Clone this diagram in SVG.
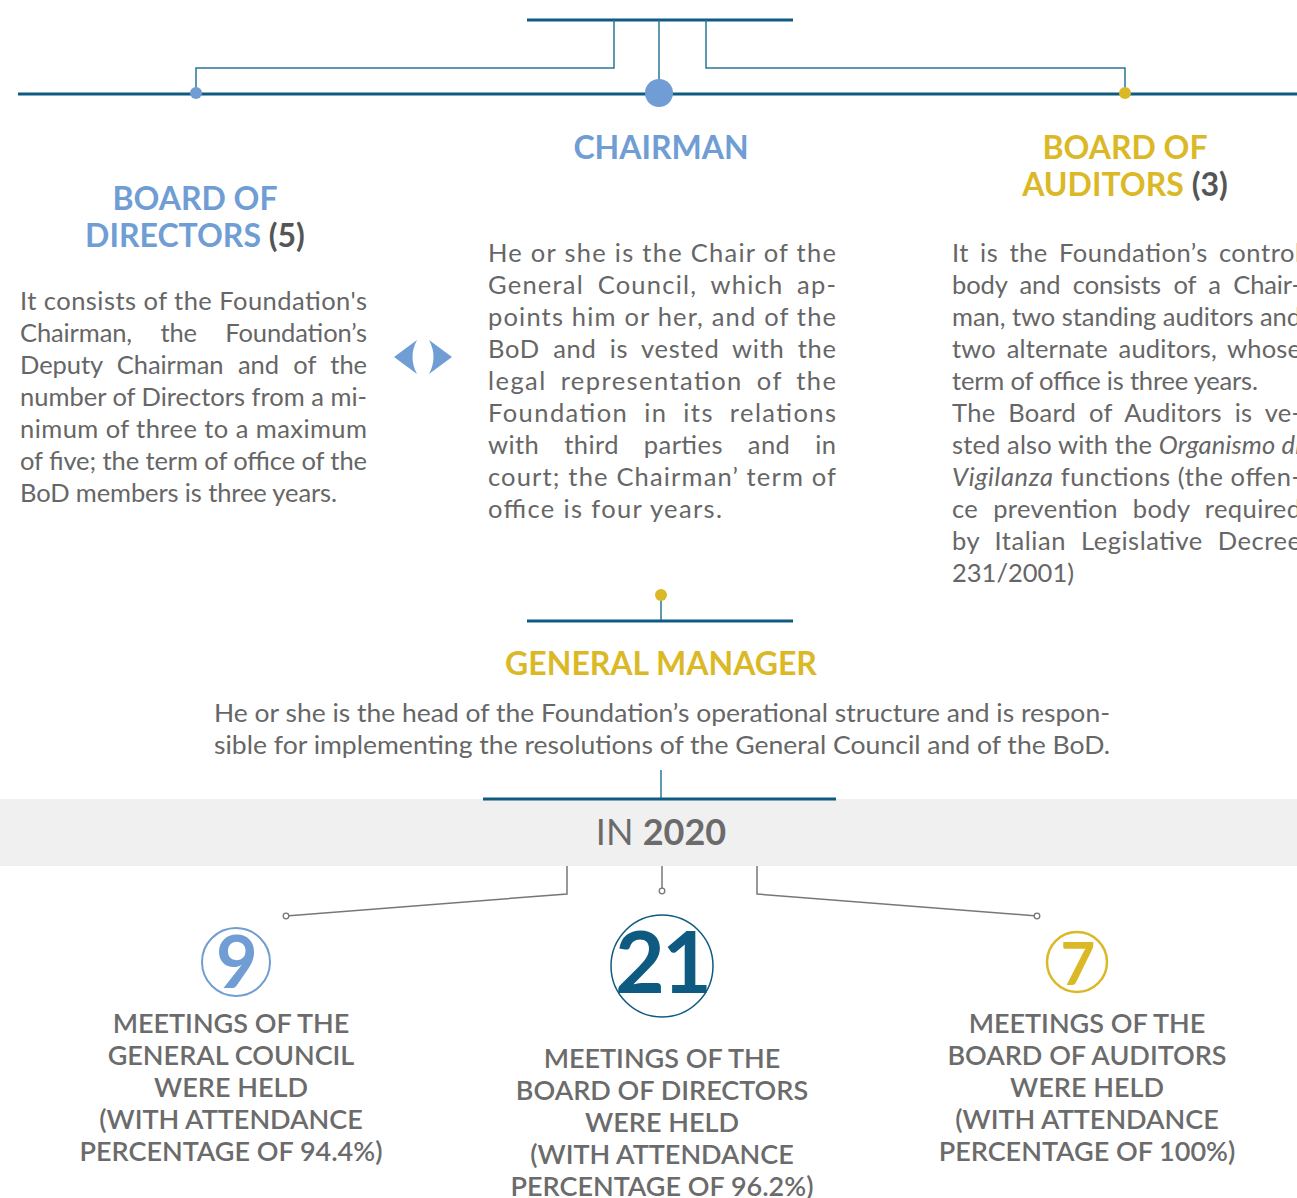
<svg xmlns="http://www.w3.org/2000/svg" width="1297" height="1198" viewBox="0 0 1297 1198">
<style>
.bar{stroke:#0e5a80;stroke-width:3;fill:none}
.thin{stroke:#2b7699;stroke-width:1.5;fill:none}
.grey{stroke:#777;stroke-width:1.5;fill:none}
.h{font-family:Lato,"Liberation Sans",sans-serif;font-weight:700;font-size:32px}
.blue{fill:#6f9dd4}
.gold{fill:#dbb826}
.num{fill:#555}
.body{font-family:Lato,"Liberation Sans",sans-serif;font-size:25.5px;fill:#666}
.cap{font-family:Lato,"Liberation Sans",sans-serif;font-weight:600;font-size:27px;fill:#6b6b6b;text-anchor:middle}
</style>
<rect width="1297" height="1198" fill="#fff"/>
<g id="connectors">
<line class="bar" x1="527" y1="20" x2="793" y2="20"/>
<polyline class="thin" points="614,20 614,68 196,68 196,93"/>
<line class="thin" x1="659" y1="20" x2="659" y2="93"/>
<polyline class="thin" points="706,20 706,68 1125,68 1125,93"/>
<line class="bar" x1="18" y1="94" x2="1297" y2="94"/>
<line class="thin" x1="661" y1="595" x2="661" y2="621"/>
<line class="bar" x1="527" y1="621" x2="793" y2="621"/>
<line class="thin" x1="661" y1="770" x2="661" y2="798"/>
<polyline class="grey" points="567,866 567,894 286,916"/>
<line class="grey" x1="662" y1="866" x2="662" y2="889"/>
<polyline class="grey" points="757,866 757,894 1037,916"/>
<circle cx="286" cy="916" r="2.8" fill="#fff" stroke="#777" stroke-width="1.3"/>
<circle cx="662" cy="891" r="2.8" fill="#fff" stroke="#777" stroke-width="1.3"/>
<circle cx="1037" cy="916" r="2.8" fill="#fff" stroke="#777" stroke-width="1.3"/>
</g>
<g id="dots">
<circle cx="196" cy="93" r="6" fill="#6f9dd4"/>
<circle cx="659" cy="93" r="14" fill="#6f9dd4"/>
<circle cx="1125" cy="93" r="6" fill="#dbb826"/>
<circle cx="661" cy="595" r="6" fill="#dbb826"/>
</g>
<g id="board-of-directors">
<text class="h blue" x="195" y="210" text-anchor="middle">BOARD OF</text>
<text class="h blue" x="195" y="247" text-anchor="middle">DIRECTORS <tspan class="num">(5)</tspan></text>
<text class="body" x="20" y="310" textLength="347" lengthAdjust="spacing">It consists of the Foundation's</text>
<text class="body" x="20" y="342" textLength="347" lengthAdjust="spacing" word-spacing="22">Chairman, the Foundation’s</text>
<text class="body" x="20" y="374" textLength="347" lengthAdjust="spacing" word-spacing="8">Deputy Chairman and of the</text>
<text class="body" x="20" y="406" textLength="347" lengthAdjust="spacing">number of Directors from a mi-</text>
<text class="body" x="20" y="438" textLength="347" lengthAdjust="spacing">nimum of three to a maximum</text>
<text class="body" x="20" y="470" textLength="347" lengthAdjust="spacing">of five; the term of office of the</text>
<text class="body" x="20" y="502" textLength="317" lengthAdjust="spacing">BoD members is three years.</text>
</g>
<g id="arrows" fill="#6f9dd4">
<path d="M394,357 L417,340 Q408,357 417,374 Z"/>
<path d="M452,357 L429,340 Q438,357 429,374 Z"/>
</g>
<g id="chairman">
<text class="h blue" x="661" y="159" text-anchor="middle">CHAIRMAN</text>
<text class="body" x="488" y="262" textLength="348" lengthAdjust="spacing">He or she is the Chair of the</text>
<text class="body" x="488" y="294" textLength="348" lengthAdjust="spacing" word-spacing="6">General Council, which ap-</text>
<text class="body" x="488" y="326" textLength="348" lengthAdjust="spacing">points him or her, and of the</text>
<text class="body" x="488" y="358" textLength="348" lengthAdjust="spacing" word-spacing="6">BoD and is vested with the</text>
<text class="body" x="488" y="390" textLength="348" lengthAdjust="spacing" word-spacing="6">legal representation of the</text>
<text class="body" x="488" y="422" textLength="348" lengthAdjust="spacing" word-spacing="8">Foundation in its relations</text>
<text class="body" x="488" y="454" textLength="348" lengthAdjust="spacing" word-spacing="18">with third parties and in</text>
<text class="body" x="488" y="486" textLength="348" lengthAdjust="spacing">court; the Chairman’ term of</text>
<text class="body" x="488" y="518" textLength="234" lengthAdjust="spacing">office is four years.</text>
</g>
<g id="board-of-auditors">
<text class="h gold" x="1125" y="159" text-anchor="middle">BOARD OF</text>
<text class="h gold" x="1125" y="196" text-anchor="middle">AUDITORS <tspan class="num">(3)</tspan></text>
<text class="body" x="952" y="262" textLength="349" lengthAdjust="spacing" word-spacing="4">It is the Foundation’s control</text>
<text class="body" x="952" y="294" textLength="349" lengthAdjust="spacing" word-spacing="6">body and consists of a Chair-</text>
<text class="body" x="952" y="326" textLength="349" lengthAdjust="spacing">man, two standing auditors and</text>
<text class="body" x="952" y="358" textLength="349" lengthAdjust="spacing" word-spacing="4">two alternate auditors, whose</text>
<text class="body" x="952" y="390" textLength="306" lengthAdjust="spacing">term of office is three years.</text>
<text class="body" x="952" y="422" textLength="349" lengthAdjust="spacing" word-spacing="6">The Board of Auditors is ve-</text>
<text class="body" x="952" y="454" textLength="349" lengthAdjust="spacing">sted also with the <tspan font-style="italic">Organismo di</tspan></text>
<text class="body" x="952" y="486" textLength="349" lengthAdjust="spacing"><tspan font-style="italic">Vigilanza</tspan> functions (the offen-</text>
<text class="body" x="952" y="518" textLength="349" lengthAdjust="spacing" word-spacing="8">ce prevention body required</text>
<text class="body" x="952" y="550" textLength="349" lengthAdjust="spacing" word-spacing="8">by Italian Legislative Decree</text>
<text class="body" x="952" y="582" textLength="122" lengthAdjust="spacing">231/2001)</text>
</g>
<g id="general-manager">
<text class="h gold" x="661" y="675" text-anchor="middle">GENERAL MANAGER</text>
<text class="body" x="214" y="722" textLength="896" lengthAdjust="spacingAndGlyphs">He or she is the head of the Foundation’s operational structure and is respon-</text>
<text class="body" x="214" y="754" textLength="896" lengthAdjust="spacingAndGlyphs">sible for implementing the resolutions of the General Council and of the BoD.</text>
</g>
<g id="in-2020">
<rect x="0" y="799" width="1297" height="67" fill="#f0f0f0"/>
<line class="bar" x1="483" y1="799" x2="836" y2="799"/>
<text x="661" y="845" text-anchor="middle" font-family="Lato,'Liberation Sans',sans-serif" font-size="36" fill="#6b6b6b">IN <tspan font-weight="700">2020</tspan></text>
</g>
<g id="general-council-meetings">
<circle cx="236" cy="962" r="34" fill="none" stroke="#6f9dd4" stroke-width="2"/>
<text x="237" y="988" text-anchor="middle" font-family="Lato,'Liberation Sans',sans-serif" font-weight="700" font-size="72" fill="#6f9dd4">9</text>
<text class="cap" x="231" y="1033">MEETINGS OF THE</text>
<text class="cap" x="231" y="1065">GENERAL COUNCIL</text>
<text class="cap" x="231" y="1097">WERE HELD</text>
<text class="cap" x="231" y="1129">(WITH ATTENDANCE</text>
<text class="cap" x="231" y="1161">PERCENTAGE OF 94.4%)</text>
</g>
<g id="bod-meetings">
<circle cx="662" cy="966" r="51" fill="none" stroke="#0e5a80" stroke-width="1.5"/>
<text x="662" y="993" text-anchor="middle" font-family="Lato,'Liberation Sans',sans-serif" font-weight="700" font-size="86" letter-spacing="-3" fill="#0e5a80">21</text>
<text class="cap" x="662" y="1068">MEETINGS OF THE</text>
<text class="cap" x="662" y="1100">BOARD OF DIRECTORS</text>
<text class="cap" x="662" y="1132">WERE HELD</text>
<text class="cap" x="662" y="1164">(WITH ATTENDANCE</text>
<text class="cap" x="662" y="1196">PERCENTAGE OF 96.2%)</text>
</g>
<g id="auditors-meetings">
<circle cx="1077" cy="962" r="30" fill="none" stroke="#dbb826" stroke-width="2.5"/>
<text x="1078" y="985" text-anchor="middle" font-family="Lato,'Liberation Sans',sans-serif" font-weight="700" font-size="60" fill="#dbb826">7</text>
<text class="cap" x="1087" y="1033">MEETINGS OF THE</text>
<text class="cap" x="1087" y="1065">BOARD OF AUDITORS</text>
<text class="cap" x="1087" y="1097">WERE HELD</text>
<text class="cap" x="1087" y="1129">(WITH ATTENDANCE</text>
<text class="cap" x="1087" y="1161">PERCENTAGE OF 100%)</text>
</g>
</svg>
